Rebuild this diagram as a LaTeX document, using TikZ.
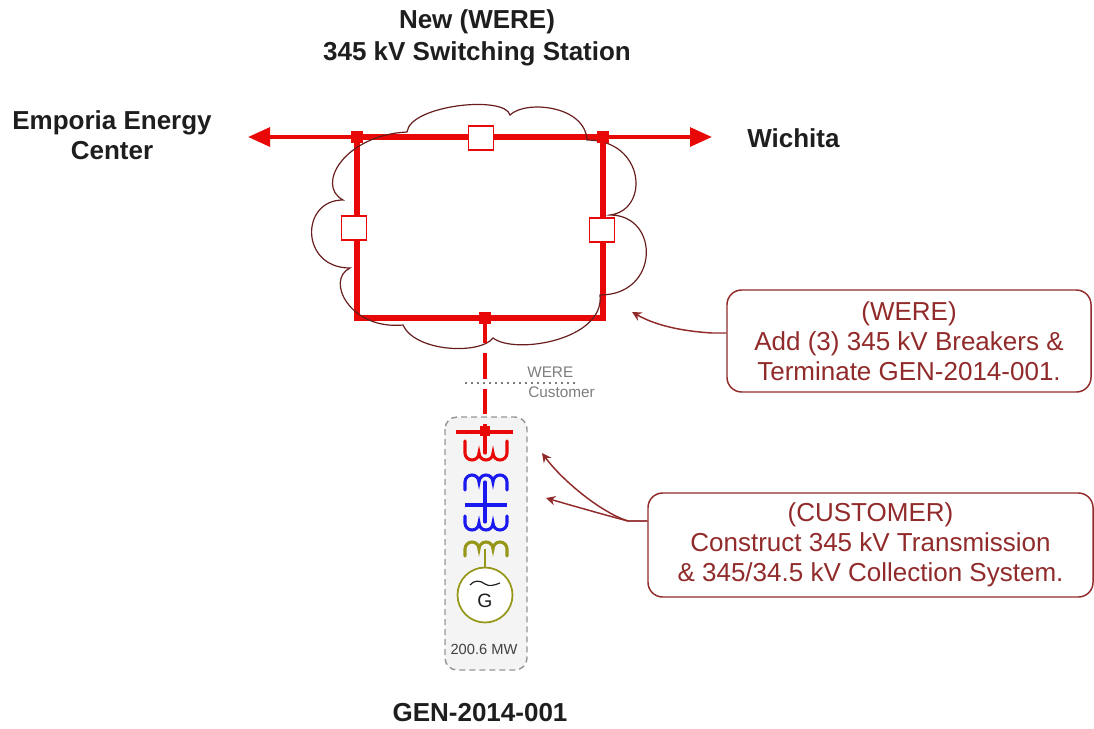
\documentclass[tikz,border=0pt]{standalone}
\usepackage{fontspec}
\setmainfont{Liberation Sans}
\usetikzlibrary{arrows.meta}
\definecolor{busred}{RGB}{232,8,8}
\definecolor{callred}{RGB}{145,42,42}
\definecolor{cloudc}{RGB}{105,30,30}
\definecolor{labeltext}{RGB}{30,30,30}
\definecolor{graytext}{RGB}{125,125,125}
\definecolor{boxgray}{RGB}{150,150,150}
\definecolor{boxfill}{RGB}{244,244,244}
\definecolor{lvblue}{RGB}{25,25,240}
\definecolor{genolive}{RGB}{150,150,25}
\begin{document}
\begin{tikzpicture}[x=0.75pt,y=-0.75pt,
  bus/.style={busred, line width=4.5pt, line join=miter},
  feeder/.style={busred, line width=3pt},
  breaker/.style={draw=busred, fill=white, line width=1.1pt, minimum width=18.75pt, minimum height=18pt, inner sep=0pt},
  junction/.style={fill=busred, minimum size=9pt, inner sep=0pt},
  smalljunction/.style={fill=busred, minimum size=7.5pt, inner sep=0pt},
  lbl/.style={font=\fontsize{19.5}{24}\selectfont\bfseries, text=labeltext, align=center},
  callout/.style={draw=callred, line width=1.1pt, rounded corners=11pt, text=callred, align=center, font=\fontsize{19.5}{22.5}\selectfont, inner sep=0pt},
  callarrow/.style={callred, line width=1.1pt, -{Stealth[length=7pt,width=7pt]}},
  winding/.style={line width=2.3pt, line cap=round},
  smalltxt/.style={font=\fontsize{11.5}{13}\selectfont, text=graytext, inner sep=0pt}
]
\useasboundingbox (0,0) rectangle (1094,728);

% ---- labels
\node[lbl] (title) at (477,38) {New (WERE)\\345 kV Switching Station};
\node[lbl, font=\fontsize{19.5}{22.5}\selectfont\bfseries] (emporia) at (112,135) {Emporia Energy\\Center};
\node[lbl, anchor=west, inner sep=0pt] (wichita) at (747,138) {Wichita};
\node[lbl] (genlbl) at (480,713) {GEN-2014-001};

% ---- ring bus
\coordinate (wl) at (248,137);
\coordinate (wr) at (712,137);
\draw[feeder, {Triangle[length=16.5pt,width=14pt]}-{Triangle[length=16.5pt,width=14pt]}] (wl) -- (wr);
\draw[bus] (357,137) rectangle (603,318);

% ---- cloud
\draw[cloudc, line width=0.9pt]
  (407,132) .. controls (410,105) and (505,95) .. (510,115)
  .. controls (525,100) and (585,105) .. (587,140)
  .. controls (645,140) and (650,210) .. (610,215)
  .. controls (660,215) and (660,295) .. (600,295)
  .. controls (605,340) and (515,355) .. (493,338)
  .. controls (480,355) and (415,352) .. (403,325)
  .. controls (350,330) and (325,280) .. (350,268)
  .. controls (300,268) and (300,200) .. (343,200)
  .. controls (315,185) and (345,135) .. (407,132) -- cycle;

% ---- junctions and breakers
\node[junction] (jtl) at (357,137) {};
\node[junction] (jtr) at (603,137) {};
\node[junction] (jb) at (485,318) {};
\node[breaker] (cbtop) at (481,138) {};
\node[breaker] (cbleft) at (354,228) {};
\node[breaker] (cbright) at (602,230) {};

% ---- customer box
\draw[boxgray, line width=1.1pt, dash pattern=on 4.5pt off 3pt, fill=boxfill, rounded corners=9pt] (445,417) rectangle (527,670);

% ---- ownership boundary
\draw[graytext, line width=1.6pt, dash pattern=on 1.5pt off 3pt] (465,383) -- (576,383);
\node[smalltxt, anchor=west] (were) at (527,372) {WERE};
\node[smalltxt, anchor=west] (cust) at (528,392) {Customer};

% ---- tie line
\node[smalljunction] (jg) at (485,431) {};
\draw[busred, line width=3.6pt, dash pattern=on 19pt off 7.5pt] (jb.center) -- (jg.center);
\draw[busred, line width=3pt] (456,432) -- (513,432);
\node[smalljunction] at (485,431) {};

% red winding (HV)
\draw[busred, winding] (485,432) -- (485,453);
\draw[busred, winding] (465,441) -- (465,453) arc[start angle=180,end angle=0,radius=7]
  arc[start angle=180,end angle=0,radius=7] arc[start angle=180,end angle=0,radius=7] -- (507,441);
% blue windings
\draw[lvblue, winding] (465,490) -- (465,482) arc[start angle=180,end angle=360,radius=7]
  arc[start angle=180,end angle=360,radius=7] arc[start angle=180,end angle=360,radius=7] -- (507,490);
\draw[lvblue, winding] (485,482) -- (485,522);
\draw[lvblue, line width=3pt] (465,505) -- (507,505);
\draw[lvblue, winding] (465,516) -- (465,523) arc[start angle=180,end angle=0,radius=7]
  arc[start angle=180,end angle=0,radius=7] arc[start angle=180,end angle=0,radius=7] -- (507,516);
% olive winding
\draw[genolive, winding] (465,556) -- (465,549) arc[start angle=180,end angle=360,radius=7]
  arc[start angle=180,end angle=360,radius=7] arc[start angle=180,end angle=360,radius=7] -- (507,556);
\node[draw=genolive, line width=1.3pt, fill=white, circle, minimum size=41.25pt, inner sep=0pt] (gen) at (485,595) {};
\draw[genolive, line width=2pt] (485,549) -- (gen.north);
\node[font=\fontsize{14.5}{16}\selectfont, text=labeltext, inner sep=0pt] (gtxt) at (485,601) {G};
\draw[labeltext, line width=0.9pt] (470,585) .. controls (474,580) and (480,580) .. (485,584) .. controls (489,587) and (495,585) .. (500,583);
\node[font=\fontsize{11}{13}\selectfont, text=labeltext!85, inner sep=0pt] (mw) at (484,649) {200.6 MW};

% ---- callouts
\node[callout, minimum width=273pt, minimum height=76.5pt] (c1) at (909,341)
  {(WERE)\\Add (3) 345 kV Breakers \&\\Terminate GEN-2014-001.};
\node[callout, minimum width=333.75pt, minimum height=78pt] (c2) at (870.5,545)
  {(CUSTOMER)\\Construct 345 kV Transmission\\\& 345/34.5 kV Collection System.};

\coordinate (t1) at (632,312);
\coordinate (t2) at (542,453);
\coordinate (t3) at (546,498);
\coordinate (k2) at (628,521);
\draw[callarrow] ([yshift=6pt]c1.west) -- (712,333) .. controls (680,331) and (655,325) .. (t1);
\draw[callarrow] ([yshift=18pt]c2.west) -- (k2) .. controls (600,512) and (562,480) .. (t2);
\draw[callarrow] ([yshift=18pt]c2.west) -- (k2) .. controls (605,515) and (570,505) .. (t3);
\end{tikzpicture}
\end{document}
